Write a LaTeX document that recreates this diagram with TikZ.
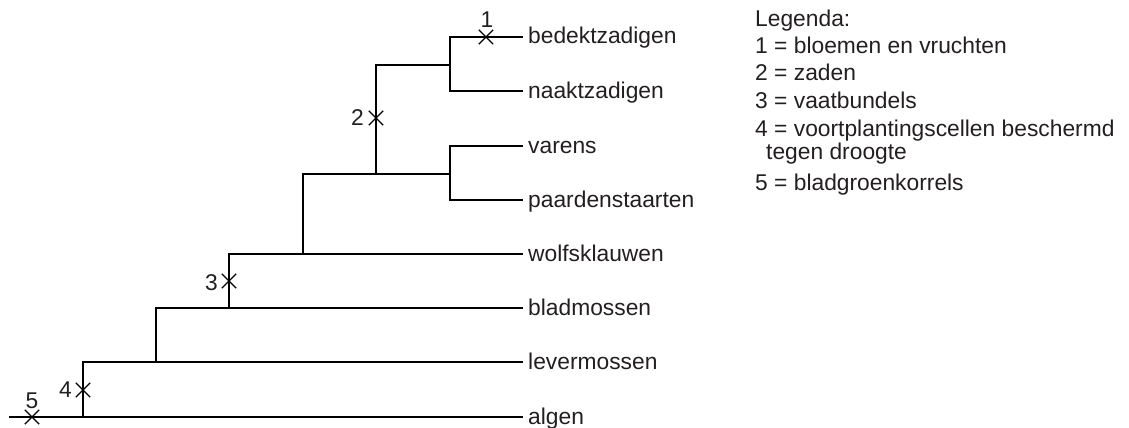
\documentclass[tikz,border=0pt]{standalone}
\usepackage{fontspec}
\setmainfont{Liberation Sans}
\usetikzlibrary{shapes.misc}
\definecolor{ink}{HTML}{231F20}
\tikzset{
  branch/.style={line width=2pt, draw=black, line cap=rect},
  mutation/.style={cross out, draw=black, line width=1.3pt, minimum size=13pt, inner sep=0pt},
  leaflabel/.style={anchor=base west, inner sep=0pt, text=ink, font=\fontsize{22.8}{27}\selectfont},
  numlabel/.style={inner sep=0pt, text=ink, font=\fontsize{22.8}{27}\selectfont},
  legendtext/.style={anchor=base west, inner sep=0pt, text=ink, font=\fontsize{22.8}{27}\selectfont},
}
\begin{document}
\begin{tikzpicture}[x=1pt,y=-1pt]
\useasboundingbox (0,0) rectangle (1129,428);
% leaf ends
\coordinate (e1) at (522,37);
\coordinate (e2) at (522,91);
\coordinate (e3) at (522,146);
\coordinate (e4) at (522,200);
\coordinate (e5) at (522,254);
\coordinate (e6) at (522,308);
\coordinate (e7) at (522,362);
\coordinate (e8) at (522,417);
% leaf labels
\node[leaflabel] (l1) at (528,44) {bedektzadigen};
\node[leaflabel] (l2) at (528,98) {naaktzadigen};
\node[leaflabel] (l3) at (528,153) {varens};
\node[leaflabel] (l4) at (528,207) {paardenstaarten};
\node[leaflabel] (l5) at (528,261) {wolfsklauwen};
\node[leaflabel] (l6) at (528,315) {bladmossen};
\node[leaflabel] (l7) at (528,369) {levermossen};
\node[leaflabel] (l8) at (528,424) {algen};
% internal coordinates
\coordinate (root) at (10,417);
\coordinate (n4) at (83,417);
\coordinate (n4t) at (83,362);
\coordinate (n5) at (156,362);
\coordinate (n5t) at (156,308);
\coordinate (n6) at (229,308);
\coordinate (n6t) at (229,254);
\coordinate (n7) at (303,254);
\coordinate (n7t) at (303,174);
\coordinate (n8) at (376,174);
\coordinate (n8t) at (376,65);
\coordinate (fa) at (450,146);
\coordinate (fb) at (450,200);
\coordinate (fm) at (450,174);
\coordinate (sa) at (450,37);
\coordinate (sb) at (450,91);
\coordinate (sm) at (450,65);
% branches
\draw[branch] (root) -- (e8);
\draw[branch] (n4) -- (n4t) -- (e7);
\draw[branch] (n5) -- (n5t) -- (e6);
\draw[branch] (n6) -- (n6t) -- (e5);
\draw[branch] (n7) -- (n7t) -- (fm);
\draw[branch] (fa) -- (fb);
\draw[branch] (fa) -- (e3);
\draw[branch] (fb) -- (e4);
\draw[branch] (n8) -- (n8t) -- (sm);
\draw[branch] (sa) -- (sb);
\draw[branch] (sa) -- (e1);
\draw[branch] (sb) -- (e2);
% mutations
\node[mutation] (m1) at (486,37) {};
\node[mutation] (m2) at (376,118) {};
\node[mutation] (m3) at (229,281) {};
\node[mutation] (m4) at (83,390) {};
\node[mutation] (m5) at (32,417) {};
\node[numlabel, anchor=base] (t1) at (487,28) {1};
\node[numlabel, anchor=base east] (t2) at (364,125) {2};
\node[numlabel, anchor=base east] (t3) at (218,290) {3};
\node[numlabel, anchor=base east] (t4) at (72,397) {4};
\node[numlabel, anchor=base] (t5) at (32,408) {5};
% legend
\node[legendtext] (g0) at (755,27) {Legenda:};
\node[legendtext] (g1) at (755,54) {1 = bloemen en vruchten};
\node[legendtext] (g2) at (755,81) {2 = zaden};
\node[legendtext] (g3) at (755,108) {3 = vaatbundels};
\node[legendtext] (g4) at (755,136) {4 = voortplantingscellen beschermd};
\node[legendtext] (g4b) at (766,159) {tegen droogte};
\node[legendtext] (g5) at (755,190) {5 = bladgroenkorrels};
\end{tikzpicture}
\end{document}
